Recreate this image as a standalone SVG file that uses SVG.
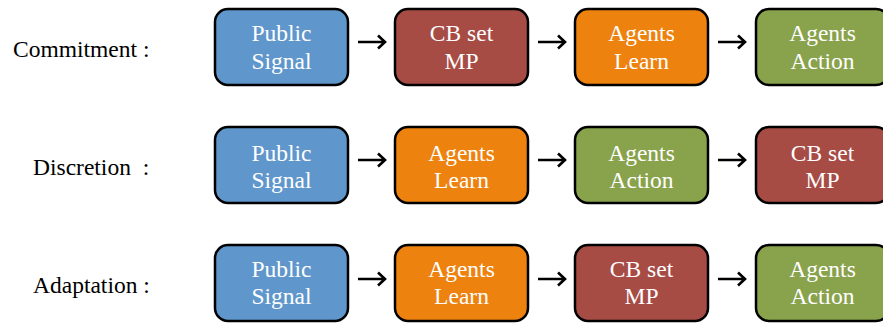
<svg xmlns="http://www.w3.org/2000/svg" width="883" height="323" viewBox="0 0 883 323">
<style>
  .box { stroke: #000; stroke-width: 2.5; }
  .blue { fill: #5F96CB; }
  .red { fill: #A74C45; }
  .orange { fill: #EE820F; }
  .green { fill: #89A24C; }
  .t { fill: #fff; text-anchor: middle; }
  .lbl { fill: #000; }
  .arr { stroke: #000; stroke-width: 2.6; fill: none; }
</style>
<defs>
  <rect id="b" x="0" y="0" width="133" height="76" rx="13" ry="13"/>
</defs>
<rect width="883" height="323" fill="#fff"/>

<g font-family="Liberation Serif" font-size="23.5">
<g id="labels">
  <text class="lbl" x="13" y="57">Commitment :</text>
  <text class="lbl" x="33" y="175" xml:space="preserve">Discretion  :</text>
  <text class="lbl" x="33" y="293">Adaptation :</text>
</g>

<g id="r1-public">
  <use href="#b" x="215" y="9" class="box blue"/>
  <text class="t" x="281.5" y="41">Public</text>
  <text class="t" x="281.5" y="68.5">Signal</text>
</g>
<g id="r1-cb">
  <use href="#b" x="395" y="9" class="box red"/>
  <text class="t" x="461.5" y="41">CB set</text>
  <text class="t" x="461.5" y="68.5">MP</text>
</g>
<g id="r1-learn">
  <use href="#b" x="575" y="9" class="box orange"/>
  <text class="t" x="641.5" y="41">Agents</text>
  <text class="t" x="641.5" y="68.5">Learn</text>
</g>
<g id="r1-action">
  <use href="#b" x="756" y="9" class="box green"/>
  <text class="t" x="822.5" y="41">Agents</text>
  <text class="t" x="822.5" y="68.5">Action</text>
</g>

<g id="r2-public">
  <use href="#b" x="215" y="127" class="box blue"/>
  <text class="t" x="281.5" y="161">Public</text>
  <text class="t" x="281.5" y="188">Signal</text>
</g>
<g id="r2-learn">
  <use href="#b" x="395" y="127" class="box orange"/>
  <text class="t" x="461.5" y="161">Agents</text>
  <text class="t" x="461.5" y="188">Learn</text>
</g>
<g id="r2-action">
  <use href="#b" x="575" y="127" class="box green"/>
  <text class="t" x="641.5" y="161">Agents</text>
  <text class="t" x="641.5" y="188">Action</text>
</g>
<g id="r2-cb">
  <use href="#b" x="756" y="127" class="box red"/>
  <text class="t" x="822.5" y="161">CB set</text>
  <text class="t" x="822.5" y="188">MP</text>
</g>

<g id="r3-public">
  <use href="#b" x="215" y="245" class="box blue"/>
  <text class="t" x="281.5" y="277">Public</text>
  <text class="t" x="281.5" y="304">Signal</text>
</g>
<g id="r3-learn">
  <use href="#b" x="395" y="245" class="box orange"/>
  <text class="t" x="461.5" y="277">Agents</text>
  <text class="t" x="461.5" y="304">Learn</text>
</g>
<g id="r3-cb">
  <use href="#b" x="575" y="245" class="box red"/>
  <text class="t" x="641.5" y="277">CB set</text>
  <text class="t" x="641.5" y="304">MP</text>
</g>
<g id="r3-action">
  <use href="#b" x="756" y="245" class="box green"/>
  <text class="t" x="822.5" y="277">Agents</text>
  <text class="t" x="822.5" y="304">Action</text>
</g>
</g>

<g id="connectors">
  <path class="arr" d="M358 42H385M378 35.5L385 42L378 48.5"/>
  <path class="arr" d="M538 42H565M558 35.5L565 42L558 48.5"/>
  <path class="arr" d="M718 42H745M738 35.5L745 42L738 48.5"/>
  <path class="arr" d="M358 160H385M378 153.5L385 160L378 166.5"/>
  <path class="arr" d="M538 160H565M558 153.5L565 160L558 166.5"/>
  <path class="arr" d="M718 160H745M738 153.5L745 160L738 166.5"/>
  <path class="arr" d="M358 279H385M378 272.5L385 279L378 285.5"/>
  <path class="arr" d="M538 279H565M558 272.5L565 279L558 285.5"/>
  <path class="arr" d="M718 279H745M738 272.5L745 279L738 285.5"/>
</g>
</svg>
